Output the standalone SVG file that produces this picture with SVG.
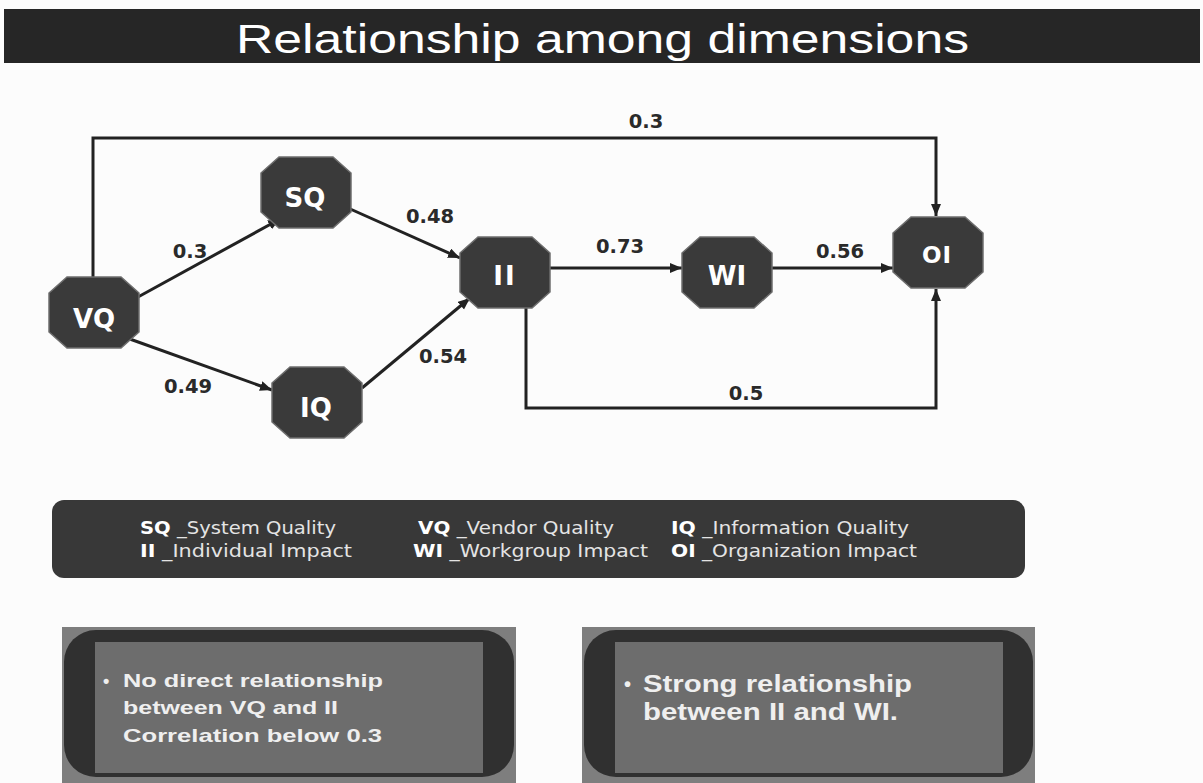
<svg xmlns="http://www.w3.org/2000/svg" xmlns:xlink="http://www.w3.org/1999/xlink" width="1203" height="783" viewBox="0 0 1203 783">
  <style>
    .title { font-family: "Liberation Sans", Arial, sans-serif; font-size: 41px; fill: #ffffff; }
    .node { fill: #3a3a3a; stroke: #6e6e6e; stroke-width: 1.5; }
    .nlabel { font-family: "DejaVu Sans", Verdana, sans-serif; font-weight: bold; font-size: 26px; fill: #ffffff; text-anchor: middle; }
    .edge { fill: none; stroke: #222222; stroke-width: 3; }
    .elabel { font-family: "DejaVu Sans", Verdana, sans-serif; font-weight: bold; font-size: 19.5px; fill: #2a2a2a; text-anchor: middle; }
    .legend { font-family: "DejaVu Sans", Verdana, sans-serif; font-size: 17px; fill: #e4e4e4; }
    .legend .abbr { font-weight: bold; fill: #ffffff; }
    .note { font-family: "Liberation Sans", Arial, sans-serif; font-weight: bold; fill: #efefef; }
    .outer { fill: #7e7e7e; }
    .pill { fill: #303030; }
    .inner { fill: #6d6d6d; }
  </style>
  <defs>
    <polygon id="oct" points="18,0 72,0 90,16 90,55 72,71 18,71 0,55 0,16"/>
    <marker id="arrow" markerUnits="userSpaceOnUse" markerWidth="13" markerHeight="11" refX="12" refY="5" orient="auto">
      <path d="M0,0 L12,5 L0,10 z" fill="#222222"/>
    </marker>
  </defs>

  <rect width="1203" height="783" fill="#fcfcfc"/>

  <!-- title bar -->
  <g id="title">
    <rect x="4" y="9" width="1196" height="54" fill="#262626"/>
    <text class="title" x="236" y="53" textLength="733" lengthAdjust="spacingAndGlyphs">Relationship among dimensions</text>
  </g>

  <!-- connectors -->
  <g id="connectors">
    <path class="edge" d="M93,277 V138 H936 V216" marker-end="url(#arrow)"/>
    <path class="edge" d="M138,297 L280,219" marker-end="url(#arrow)"/>
    <path class="edge" d="M127,338 L272,390" marker-end="url(#arrow)"/>
    <path class="edge" d="M348,208 L460,258" marker-end="url(#arrow)"/>
    <path class="edge" d="M362,388 L470,298" marker-end="url(#arrow)"/>
    <path class="edge" d="M550,268 H682" marker-end="url(#arrow)"/>
    <path class="edge" d="M772,268 H893" marker-end="url(#arrow)"/>
    <path class="edge" d="M526,308 V408 H936 V289" marker-end="url(#arrow)"/>
    <text class="elabel" x="646" y="128">0.3</text>
    <text class="elabel" x="190" y="258">0.3</text>
    <text class="elabel" x="188" y="393">0.49</text>
    <text class="elabel" x="430" y="223">0.48</text>
    <text class="elabel" x="443" y="363">0.54</text>
    <text class="elabel" x="620" y="253">0.73</text>
    <text class="elabel" x="840" y="258">0.56</text>
    <text class="elabel" x="746" y="400">0.5</text>
  </g>

  <!-- nodes -->
  <g id="node-vq">
    <use xlink:href="#oct" class="node" x="49" y="277"/>
    <text class="nlabel" x="94" y="328">VQ</text>
  </g>
  <g id="node-sq">
    <use xlink:href="#oct" class="node" x="261" y="157"/>
    <text class="nlabel" x="305" y="207">SQ</text>
  </g>
  <g id="node-iq">
    <use xlink:href="#oct" class="node" x="272" y="367"/>
    <text class="nlabel" x="316" y="417">IQ</text>
  </g>
  <g id="node-ii">
    <use xlink:href="#oct" class="node" x="460" y="237"/>
    <text class="nlabel" x="505" y="285" letter-spacing="2">II</text>
  </g>
  <g id="node-wi">
    <use xlink:href="#oct" class="node" x="682" y="237"/>
    <text class="nlabel" x="727" y="285">WI</text>
  </g>
  <g id="node-oi">
    <use xlink:href="#oct" class="node" x="893" y="217"/>
    <text class="nlabel" x="937" y="263" style="font-size:23px" letter-spacing="1">OI</text>
  </g>

  <!-- legend -->
  <g id="legend">
    <rect x="52" y="500" width="973" height="78" rx="12" fill="#383838"/>
    <text class="legend" x="140" y="534" textLength="196" lengthAdjust="spacingAndGlyphs"><tspan class="abbr">SQ</tspan> _System Quality</text>
    <text class="legend" x="418" y="534" textLength="196" lengthAdjust="spacingAndGlyphs"><tspan class="abbr">VQ</tspan> _Vendor Quality</text>
    <text class="legend" x="671" y="534" textLength="238" lengthAdjust="spacingAndGlyphs"><tspan class="abbr">IQ</tspan> _Information Quality</text>
    <text class="legend" x="140" y="557" textLength="212" lengthAdjust="spacingAndGlyphs"><tspan class="abbr">II</tspan> _Individual Impact</text>
    <text class="legend" x="413" y="557" textLength="235" lengthAdjust="spacingAndGlyphs"><tspan class="abbr">WI</tspan> _Workgroup Impact</text>
    <text class="legend" x="671" y="557" textLength="246" lengthAdjust="spacingAndGlyphs"><tspan class="abbr">OI</tspan> _Organization Impact</text>
  </g>

  <!-- note boxes -->
  <g id="note-left">
    <rect class="outer" x="62" y="627" width="454" height="156"/>
    <rect class="pill" x="64" y="630" width="450" height="147" rx="32"/>
    <rect class="inner" x="95" y="642" width="388" height="131"/>
    <text class="note" x="103" y="687" style="font-size:18px">•</text>
    <text class="note" x="123" y="687" style="font-size:19px" textLength="260" lengthAdjust="spacingAndGlyphs">No direct relationship</text>
    <text class="note" x="123" y="714" style="font-size:19px" textLength="215" lengthAdjust="spacingAndGlyphs">between VQ and II</text>
    <text class="note" x="123" y="742" style="font-size:19px" textLength="259" lengthAdjust="spacingAndGlyphs">Correlation below 0.3</text>
  </g>
  <g id="note-right">
    <rect class="outer" x="582" y="627" width="453" height="156"/>
    <rect class="pill" x="584" y="630" width="449" height="147" rx="32"/>
    <rect class="inner" x="615" y="642" width="388" height="131"/>
    <text class="note" x="624" y="691" style="font-size:20px">•</text>
    <text class="note" x="643" y="692" style="font-size:23px" textLength="269" lengthAdjust="spacingAndGlyphs">Strong relationship</text>
    <text class="note" x="643" y="720" style="font-size:23px" textLength="255" lengthAdjust="spacingAndGlyphs">between II and WI.</text>
  </g>
</svg>
